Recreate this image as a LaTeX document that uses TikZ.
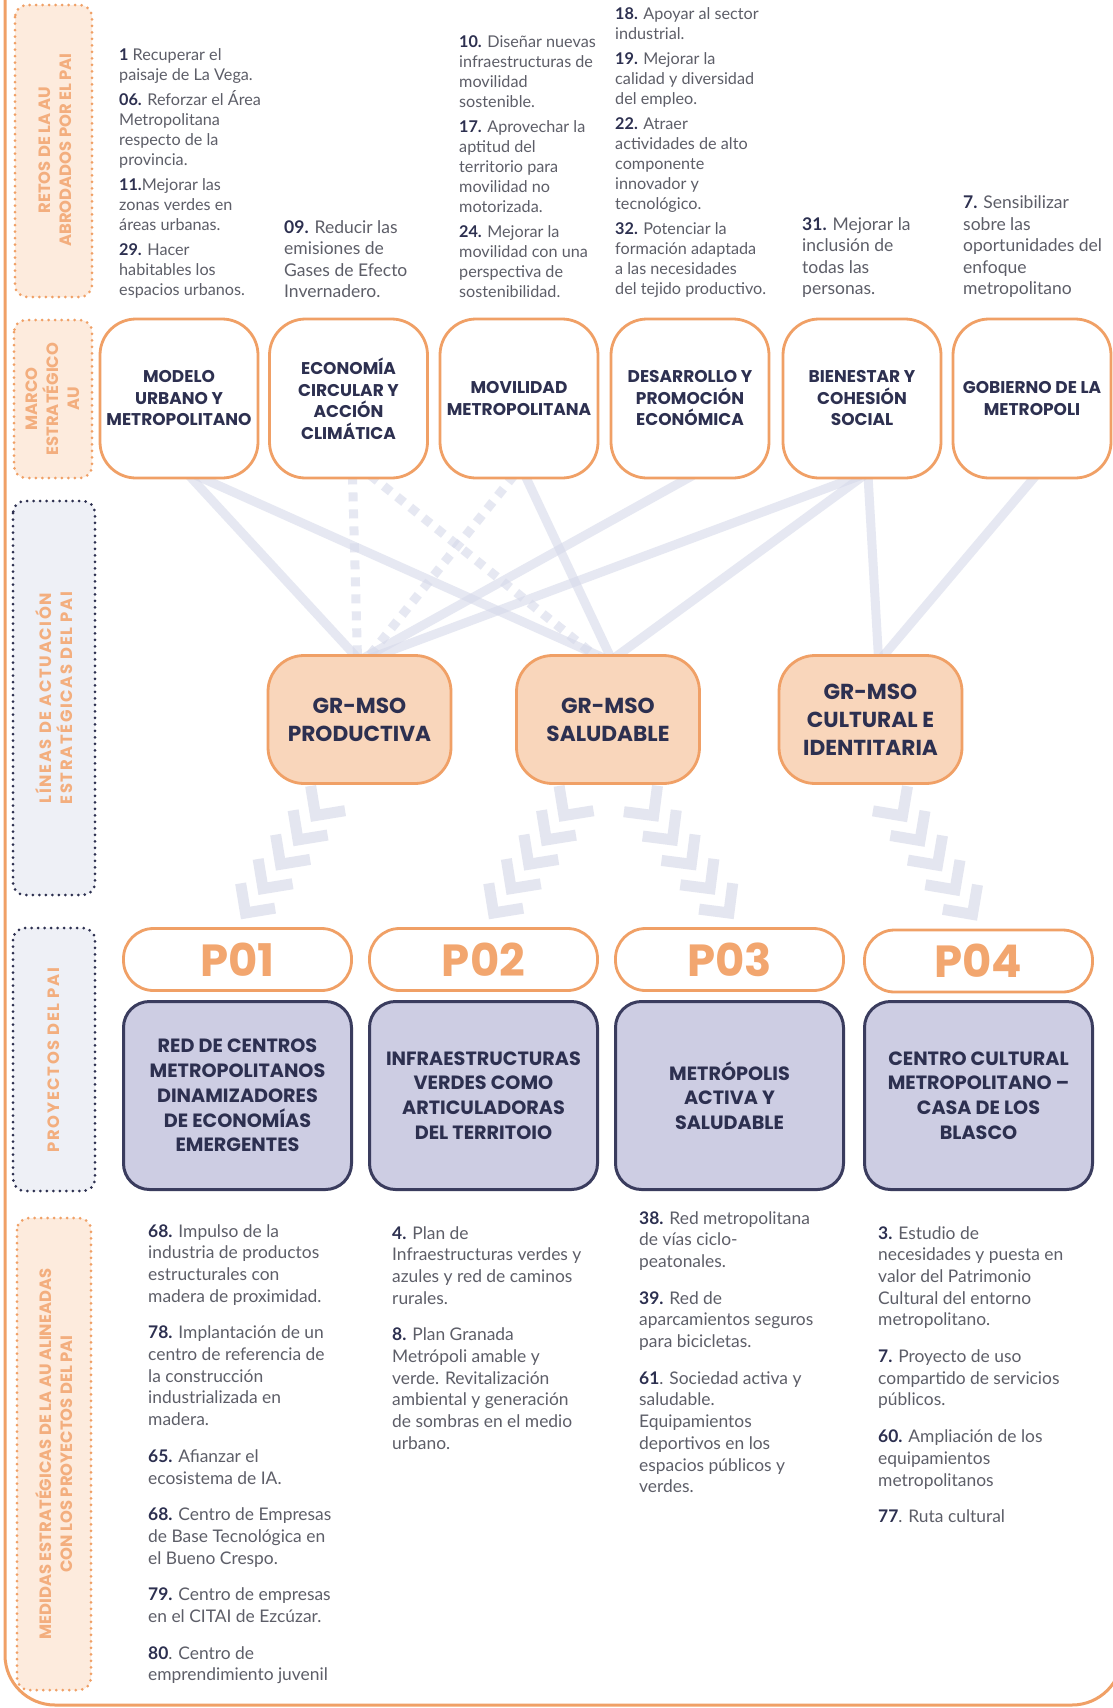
\documentclass[tikz,border=0pt]{standalone}
\usepackage{fontspec}
\setmainfont{Lato}
\newfontfamily\headfont{Poppins}
\newfontfamily\labwide[LetterSpace=10]{Poppins}
\usetikzlibrary{calc,backgrounds}
\definecolor{orng}{HTML}{F0A066}
\definecolor{orngtxt}{HTML}{F2A66F}
\definecolor{labtxt}{HTML}{F3AE7E}
\definecolor{peach}{HTML}{FDEBDD}
\definecolor{grfill}{HTML}{F9D6BB}
\definecolor{navy}{HTML}{2D3050}
\definecolor{navyb}{HTML}{3A3C5E}
\definecolor{lav}{HTML}{CDCDE3}
\definecolor{lablav}{HTML}{EEF0F6}
\definecolor{linec}{HTML}{D6D9EA}
\definecolor{chevc}{HTML}{E4E6F0}
\definecolor{bodyc}{HTML}{5D5E68}
\newcommand\numb[1]{\textbf{\color{navy}#1}}
\tikzset{
  dotbox/.style={line width=3pt, dash pattern=on 0pt off 6.5pt, line cap=round, rounded corners=12pt},
  labtext/.style={rotate=90, align=center, text=labtxt, inner sep=0pt, font=\headfont\bfseries\fontsize{16.4}{21}\selectfont},
  aubox/.style={draw=orng, line width=2.8pt, fill=white, rounded corners=36pt, minimum width=158pt, minimum height=159pt, align=center, text=navy, inner sep=2pt, font=\headfont\bfseries\fontsize{17}{21.5}\selectfont},
  grbox/.style={draw=orng, line width=2.8pt, fill=grfill, rounded corners=36pt, minimum width=183pt, minimum height=128pt, align=center, text=navy, inner sep=2pt, font=\headfont\bfseries\fontsize{21.7}{28}\selectfont},
  pbox/.style={draw=orng, line width=2.8pt, fill=white, rounded corners=30pt, minimum width=228pt, minimum height=62pt, text=orngtxt, inner sep=0pt, font=\headfont\bfseries\fontsize{45}{45}\selectfont},
  projbox/.style={draw=navyb, line width=3pt, fill=lav, rounded corners=26pt, minimum width=228pt, minimum height=188pt, align=center, text=navy, inner sep=2pt, font=\headfont\bfseries\fontsize{19.2}{24.8}\selectfont},
  retos/.style={anchor=south west, align=left, inner sep=0pt, text=bodyc, font=\fontsize{16.2}{20}\selectfont},
  retosb/.style={anchor=south west, align=left, inner sep=0pt, text=bodyc, font=\fontsize{17.5}{21.5}\selectfont},
  medida/.style={anchor=north west, align=left, inner sep=0pt, text=bodyc, font=\fontsize{17.4}{21.7}\selectfont},
  link/.style={draw=linec, line width=9pt, opacity=0.6},
  dlink/.style={link, dash pattern=on 9pt off 8pt},
  chev/.style={draw=chevc, line width=11pt, miter limit=10}
}
\begin{document}
\begin{tikzpicture}[x=1pt,y=-1pt]
\useasboundingbox (0,0) rectangle (1113,1708);
\begin{scope}[on background layer]
\fill[white] (0,0) rectangle (1113,1708);
\end{scope}
% outer frame
\draw[orng, line width=3pt, rounded corners=50pt] (5,-40) -- (5,1705) -- (1122,1705) -- (1122,-40);

% left labels
\draw[dotbox, draw=orng, fill=peach] (15,5) rectangle (92,297);
\node[labtext] (lab1) at (55,150) {RETOS DE LA AU\\ABRODADOS POR EL PAI};
\draw[dotbox, draw=orng, fill=peach] (14,320) rectangle (92,478);
\node[labtext] (lab2) at (53,399) {MARCO\\ESTRATÉGICO\\AU};
\draw[dotbox, draw=navy, fill=lablav] (13,501) rectangle (95,895);
\node[labtext, font=\labwide\bfseries\fontsize{16.4}{21}\selectfont] (lab3) at (54,698) {LÍNEAS DE ACTUACIÓN\\ESTRATÉGICAS DEL PAI};
\draw[dotbox, draw=navy, fill=lablav] (13,928) rectangle (95,1191);
\node[labtext, font=\labwide\bfseries\fontsize{16.4}{21}\selectfont] (lab4) at (54,1060) {PROYECTOS DEL PAI};
\draw[dotbox, draw=orng, fill=peach] (17,1218) rectangle (91,1690);
\node[labtext] (lab5) at (54,1454) {MEDIDAS ESTRATÉGICAS DE LA AU ALINEADAS\\CON LOS PROYECTOS DEL PAI};

% retos text
\node[retos] (r1) at (119,298) {\numb{1} Recuperar el\\paisaje de La Vega.\\[5pt]\numb{06.} Reforzar el Área\\Metropolitana\\respecto de la\\provincia.\\[5pt]\numb{11.}Mejorar las\\zonas verdes en\\áreas urbanas.\\[5pt]\numb{29.} Hacer\\habitables los\\espacios urbanos.};
\node[retosb] (r2) at (284,298) {\numb{09.} Reducir las\\emisiones de\\Gases de Efecto\\Invernadero.};
\node[retos] (r3) at (459,298) {\numb{10.} Diseñar nuevas\\infraestructuras de\\movilidad\\sostenible.\\[5pt]\numb{17.} Aprovechar la\\aptitud del\\territorio para\\movilidad no\\motorizada.\\[5pt]\numb{24.} Mejorar la\\movilidad con una\\perspectiva de\\sostenibilidad.};
\node[retos] (r4) at (615,298) {\numb{18.} Apoyar al sector\\industrial.\\[5pt]\numb{19.} Mejorar la\\calidad y diversidad\\del empleo.\\[5pt]\numb{22.} Atraer\\actividades de alto\\componente\\innovador y\\tecnológico.\\[5pt]\numb{32.} Potenciar la\\formación adaptada\\a las necesidades\\del tejido productivo.};
\node[retosb] (r5) at (802,298) {\numb{31.} Mejorar la\\inclusión de\\todas las\\personas.};
\node[retosb] (r6) at (963,298) {\numb{7.} Sensibilizar\\sobre las\\oportunidades del\\enfoque\\metropolitano};

% AU boxes
\node[aubox] (au1) at (179,398.5) {MODELO\\URBANO Y\\METROPOLITANO};
\node[aubox] (au2) at (348.5,398.5) {ECONOMÍA\\CIRCULAR Y\\ACCIÓN\\CLIMÁTICA};
\node[aubox] (au3) at (519,398.5) {MOVILIDAD\\METROPOLITANA};
\node[aubox] (au4) at (690,398.5) {DESARROLLO Y\\PROMOCIÓN\\ECONÓMICA};
\node[aubox] (au5) at (862,398.5) {BIENESTAR Y\\COHESIÓN\\SOCIAL};
\node[aubox] (au6) at (1032,398.5) {GOBIERNO DE LA\\METROPOLI};

% GR boxes
\node[grbox] (gr1) at (359.5,719.5) {GR-MSO\\PRODUCTIVA};
\node[grbox] (gr2) at (608,719.5) {GR-MSO\\SALUDABLE};
\node[grbox] (gr3) at (870.5,719.5) {GR-MSO\\CULTURAL E\\IDENTITARIA};

% links
\begin{scope}[on background layer]
\draw[link] ($(au1.south)+(10,-4)$) -- ($(gr1.north)+(-2,4)$);
\draw[link] ($(au1.south)+(17,-4)$) -- ($(gr2.north)+(-4,4)$);
\draw[dlink] ($(au2.south)+(4,-4)$) -- ($(gr1.north)+(-2,4)$);
\draw[dlink] ($(au2.south)+(22,-4)$) -- ($(gr2.north)+(-10,4)$);
\draw[dlink] ($(au3.south)+(-5,-4)$) -- ($(gr1.north)+(8,4)$);
\draw[link] ($(au3.south)+(6,-4)$) -- ($(gr2.north)+(3,4)$);
\draw[link] ($(au4.south)+(3,-4)$) -- ($(gr1.north)+(4,4)$);
\draw[link] ($(au5.south)+(-1,-4)$) -- ($(gr1.north)+(11,4)$);
\draw[link] ($(au5.south)+(2,-4)$) -- ($(gr2.north)+(6,4)$);
\draw[link] ($(au5.south)+(6,-4)$) -- ($(gr3.north)+(8,4)$);
\draw[link] ($(au6.south)+(4,-4)$) -- ($(gr3.north)+(11,4)$);
\end{scope}

% P boxes
\node[pbox] (p1) at (237.5,959.5) {P01};
\node[pbox] (p2) at (483.5,959.5) {P02};
\node[pbox] (p3) at (729.5,959.5) {P03};
\node[pbox] (p4) at (978.5,961) {P04};

% chevron chains
\coordinate (a1) at ($(gr1.south)+(-22,0)$);
\coordinate (b1) at ($(p1.north)+(0,-3)$);
\coordinate (a2) at ($(gr2.south)+(-22,0)$);
\coordinate (b2) at ($(p2.north)+(2,-3)$);
\coordinate (a3) at ($(gr2.south)+(22,0)$);
\coordinate (b3) at ($(p3.north)+(8,-3)$);
\coordinate (a4) at ($(gr3.south)+(10,0)$);
\coordinate (b4) at ($(p4.north)+(2,-3)$);
\foreach \A/\B in {a1/b1,a2/b2,a3/b3,a4/b4}{
  \foreach \t in {0.22,0.395,0.57,0.745,0.92}{
    \coordinate (cv) at ($(\A)!\t!(\B)$);
    \draw[chev] ($(cv)!30pt!45:(\A)$) -- (cv) -- ($(cv)!30pt!-45:(\A)$);
  }
}

% project boxes
\node[projbox] (pr1) at (237.5,1095.5) {RED DE CENTROS\\METROPOLITANOS\\DINAMIZADORES\\DE ECONOMÍAS\\EMERGENTES};
\node[projbox] (pr2) at (483.5,1095.5) {INFRAESTRUCTURAS\\VERDES COMO\\ARTICULADORAS\\DEL TERRITOIO};
\node[projbox] (pr3) at (729.5,1095.5) {METRÓPOLIS\\ACTIVA Y\\SALUDABLE};
\node[projbox] (pr4) at (978.5,1095.5) {CENTRO CULTURAL\\METROPOLITANO –\\CASA DE LOS\\BLASCO};

% medidas
\node[medida] (m1) at (148,1224) {\numb{68.} Impulso de la\\industria de productos\\estructurales con\\madera de proximidad.\\[15pt]\numb{78.} Implantación de un\\centro de referencia de\\la construcción\\industrializada en\\madera.\\[15pt]\numb{65.} Afianzar el\\ecosistema de IA.\\[15pt]\numb{68.} Centro de Empresas\\de Base Tecnológica en\\el Bueno Crespo.\\[15pt]\numb{79.} Centro de empresas\\en el CITAI de Ezcúzar.\\[15pt]\numb{80}. Centro de\\emprendimiento juvenil};
\node[medida] (m2) at (392,1226) {\numb{4.} Plan de\\Infraestructuras verdes y\\azules y red de caminos\\rurales.\\[15pt]\numb{8.} Plan Granada\\Metrópoli amable y\\verde. Revitalización\\ambiental y generación\\de sombras en el medio\\urbano.};
\node[medida] (m3) at (639,1211) {\numb{38.} Red metropolitana\\de vías ciclo-\\peatonales.\\[15pt]\numb{39.} Red de\\aparcamientos seguros\\para bicicletas.\\[15pt]\numb{61}. Sociedad activa y\\saludable.\\Equipamientos\\deportivos en los\\espacios públicos y\\verdes.};
\node[medida] (m4) at (878,1226) {\numb{3.} Estudio de\\necesidades y puesta en\\valor del Patrimonio\\Cultural del entorno\\metropolitano.\\[15pt]\numb{7.} Proyecto de uso\\compartido de servicios\\públicos.\\[15pt]\numb{60.} Ampliación de los\\equipamientos\\metropolitanos\\[15pt]\numb{77}. Ruta cultural};
\end{tikzpicture}
\end{document}
